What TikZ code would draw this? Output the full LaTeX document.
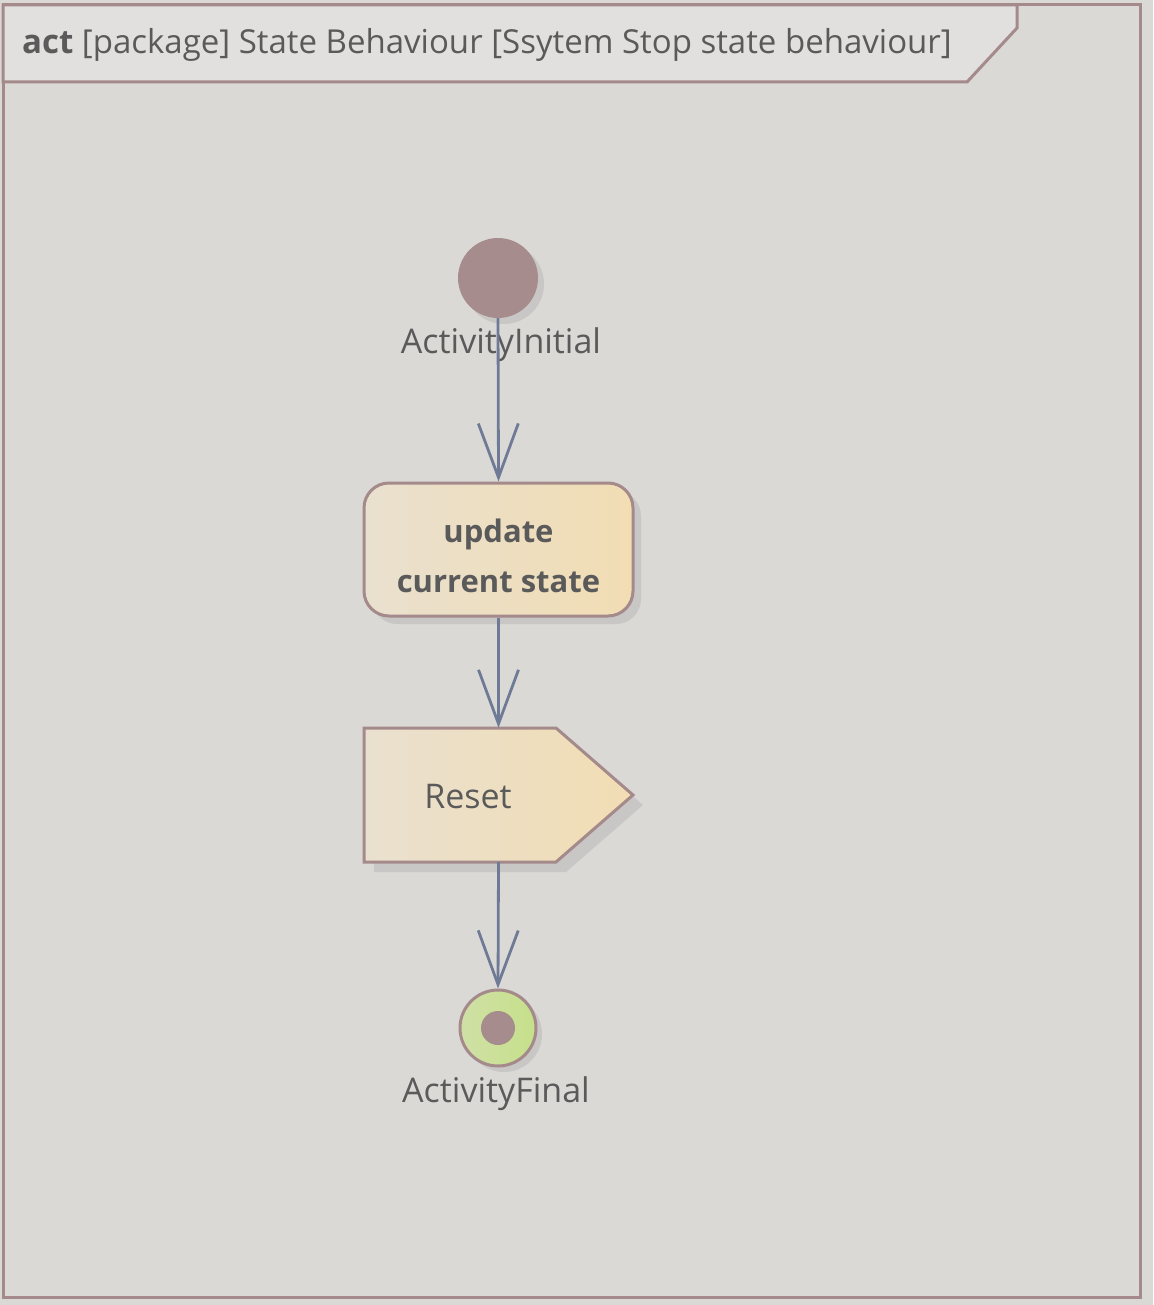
\documentclass[tikz,border=0pt]{standalone}
\usepackage{fontspec}
\setmainfont{Open Sans}
\usetikzlibrary{arrows.meta}
\definecolor{bg}{HTML}{DAD9D6}
\definecolor{frame}{HTML}{A48A8A}
\definecolor{tabfill}{HTML}{E1E0DF}
\definecolor{nodeL}{HTML}{E9E0CF}
\definecolor{nodeR}{HTML}{F2DDB3}
\definecolor{initc}{HTML}{A68C8C}
\definecolor{arr}{HTML}{6F7B96}
\definecolor{txt}{HTML}{5A5A5A}
\definecolor{shad}{HTML}{C9C7C5}
\definecolor{finL}{HTML}{D0E0A6}
\definecolor{finR}{HTML}{C6E08A}
\tikzset{
  flow/.style={draw=arr, line width=2.8pt, -{Straight Barb[length=54pt,width=40pt,line width=2.8pt]}},
  lbl/.style={text=txt, font=\fontsize{34}{40}\selectfont, inner sep=0pt},
  outl/.style={draw=frame, line width=3pt},
}
\begin{document}
\begin{tikzpicture}[x=1pt,y=-1pt]
\fill[bg] (0,0) rectangle (1153,1305);
\useasboundingbox (0,0) rectangle (1153,1305);
% frame
\draw[outl] (3,5) rectangle (1140,1297);
% title tab
\path[fill=tabfill, outl] (3,5) -- (1017,5) -- (1017,28) -- (967,82) -- (3,82) -- cycle;
\node[lbl, font=\fontsize{33}{40}\selectfont, anchor=west] (title) at (22,45) {\textbf{act} [package] State Behaviour [Ssytem Stop state behaviour]};
% initial
\fill[shad] (504,284) circle (40);
\node[circle, fill=initc, minimum size=80pt, inner sep=0pt] (init) at (498,278) {};
\node[lbl] (initlbl) at (501,345) {ActivityInitial};
% action
\fill[shad, rounded corners=25pt] (372,491) rectangle (641,624);
\node[draw=frame, line width=3pt, left color=nodeL, right color=nodeR, rounded corners=25pt,
      minimum width=269pt, minimum height=133pt, inner sep=0pt] (act) at (498.5,549.5) {};
\node[text=txt, inner sep=0pt, font=\bfseries\fontsize{31}{50}\selectfont, align=center] (acttxt) at (498.5,556) {update\\current state};
% signal send
\fill[shad] (374,738) -- (566,738) -- (643,805) -- (566,872) -- (374,872) -- cycle;
\path[outl, left color=nodeL, right color=nodeR] (364,728) -- (556,728) -- (633,795) -- (556,862) -- (364,862) -- cycle;
\node[minimum width=269pt, minimum height=134pt, inner sep=0pt] (reset) at (498.5,795) {};
\node[lbl] (resettxt) at (468,797) {Reset};
% final
\fill[shad] (504,1034) circle (38);
\node[circle, draw=frame, line width=3pt, left color=finL, right color=finR, minimum size=76pt, inner sep=0pt] (final) at (498,1028) {};
\fill[initc] (final.center) circle (17);
\node[lbl] (finallbl) at (496,1094) {ActivityFinal};
% flows
\draw[flow] (init.south) -- (act.north);
\draw[flow] (act.south) -- (reset.north);
\draw[flow] (reset.south) -- (final.north);
\end{tikzpicture}
\end{document}
